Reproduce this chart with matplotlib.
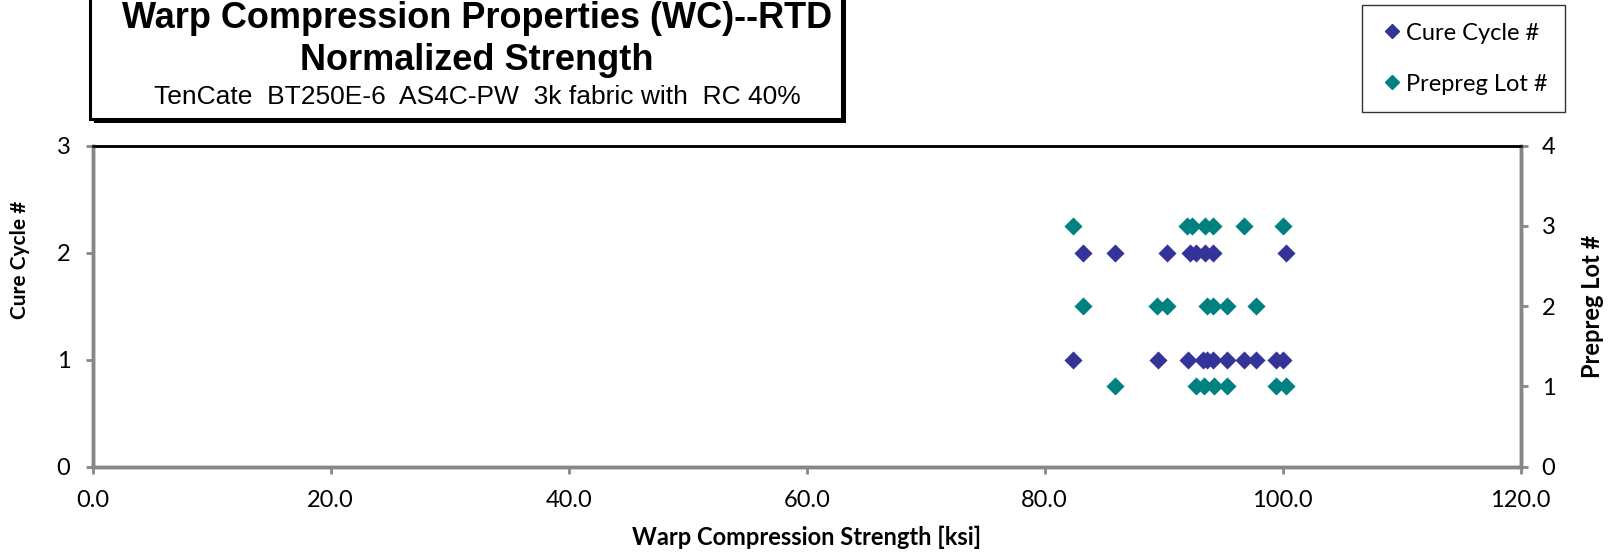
import matplotlib.pyplot as plt
from matplotlib.patches import Rectangle
from matplotlib.lines import Line2D

# strength [ksi], grouped by the y level they sit on
cure1_x = [82.35, 89.50, 92.07, 93.33, 93.61, 94.17, 95.29, 96.75, 97.73, 99.43, 100.05]
cure2_x = [83.19, 85.88, 90.30, 92.21, 92.69, 93.47, 94.12, 100.28]
lot1_x = [85.88, 92.69, 93.39, 94.23, 95.29, 99.43, 100.28]
lot2_x = [83.19, 89.46, 90.30, 93.61, 94.12, 95.29, 97.73]
lot3_x = [82.35, 91.98, 92.35, 93.47, 94.12, 96.77, 100.00]

cure_x = cure1_x + cure2_x
cure_y = [1] * len(cure1_x) + [2] * len(cure2_x)
lot_x = lot1_x + lot2_x + lot3_x
lot_y = [1] * len(lot1_x) + [2] * len(lot2_x) + [3] * len(lot3_x)

x_ticks = [0, 20, 40, 60, 80, 100, 120]
cure_ticks = [0, 1, 2, 3]
lot_ticks = [0, 1, 2, 3, 4]

cure_color = "#333399"
lot_color = "#008080"
gray = "#878787"
body_font = ["Lato", "DejaVu Sans"]
title_font = ["Liberation Sans", "DejaVu Sans"]

plt.rcParams["font.family"] = body_font

fig = plt.figure(figsize=(16.12, 5.55), dpi=100)
W, H = 1612, 555
ax = fig.add_axes([92.7 / W, 1 - 466.7 / H, (1520.7 - 92.7) / W, (466.7 - 145.7) / H])
ax2 = ax.twinx()

ax.scatter(cure_x, cure_y, marker="D", s=85, color=cure_color, zorder=3, linewidths=0)
ax2.scatter(lot_x, lot_y, marker="D", s=85, color=lot_color, zorder=3, linewidths=0)

ax.set_xlim(0, 120)
ax.set_ylim(0, 3)
ax2.set_ylim(0, 4)
ax.set_xticks(x_ticks)
ax.set_xticklabels([f"{v:.1f}" for v in x_ticks])
ax.set_yticks(cure_ticks)
ax2.set_yticks(lot_ticks)

for a in (ax, ax2):
    for side in ("left", "right", "bottom"):
        a.spines[side].set_color(gray)
        a.spines[side].set_linewidth(2.5)
    a.spines["top"].set_color("black")
    a.spines["top"].set_linewidth(1.8)
    a.tick_params(direction="out", length=5, width=2, color=gray, labelsize=17)
ax.tick_params(axis="x", pad=12)
ax.tick_params(axis="y", pad=11)
ax2.tick_params(axis="y", pad=10)

ax.set_xlabel("Warp Compression Strength [ksi]", fontsize=17, fontweight="bold")
ax.xaxis.set_label_coords(0.5, -(537 - 466.7) / 321, transform=ax.transAxes)
ax.xaxis.label.set_va("center")
ax.set_ylabel("Cure Cycle #", fontsize=15, fontweight="bold", va="center")
ax.yaxis.set_label_coords(-(92.7 - 20) / 1428, 0.644)
ax2.set_ylabel("Prepreg Lot #", fontsize=17, fontweight="bold", va="center", rotation=90)
ax2.yaxis.set_label_coords(1 + (1593 - 1520.7) / 1428, 0.5)

# title box with drop shadow
shadow = Rectangle((94 / W, 1 - 123 / H), 752 / W, 140 / H, transform=fig.transFigure,
                   facecolor="black", edgecolor="none", zorder=0)
box = Rectangle((90 / W, 1 - 119 / H), 752 / W, 140 / H, transform=fig.transFigure,
                facecolor="white", edgecolor="black", linewidth=2.2, zorder=1)
fig.patches.extend([shadow, box])
cx = 477 / W
fig.text(cx, 1 - 18 / H, "Warp Compression Properties (WC)--RTD", ha="center", va="center",
         fontsize=26, fontweight="bold", family=title_font, zorder=2)
fig.text(cx, 1 - 60 / H, "Normalized Strength", ha="center", va="center",
         fontsize=26, fontweight="bold", family=title_font, zorder=2)
fig.text(cx, 1 - 97 / H, "TenCate  BT250E-6  AS4C-PW  3k fabric with  RC 40%", ha="center",
         va="center", fontsize=19, family=title_font, zorder=2)

handles = [
    Line2D([], [], marker="D", color=cure_color, linestyle="none", markersize=7.5),
    Line2D([], [], marker="D", color=lot_color, linestyle="none", markersize=7.5),
]
leg = fig.legend(handles, ["Cure Cycle #", "Prepreg Lot #"], loc="upper left",
                 bbox_to_anchor=(1362 / W, 1 - 5 / H), fontsize=17, frameon=True,
                 fancybox=False, handletextpad=0.1, handlelength=1.0, labelspacing=1.27,
                 borderpad=0.75, borderaxespad=0)
leg.get_frame().set_edgecolor("black")
leg.get_frame().set_linewidth(1.0)

fig.savefig("out.png", dpi=100)
